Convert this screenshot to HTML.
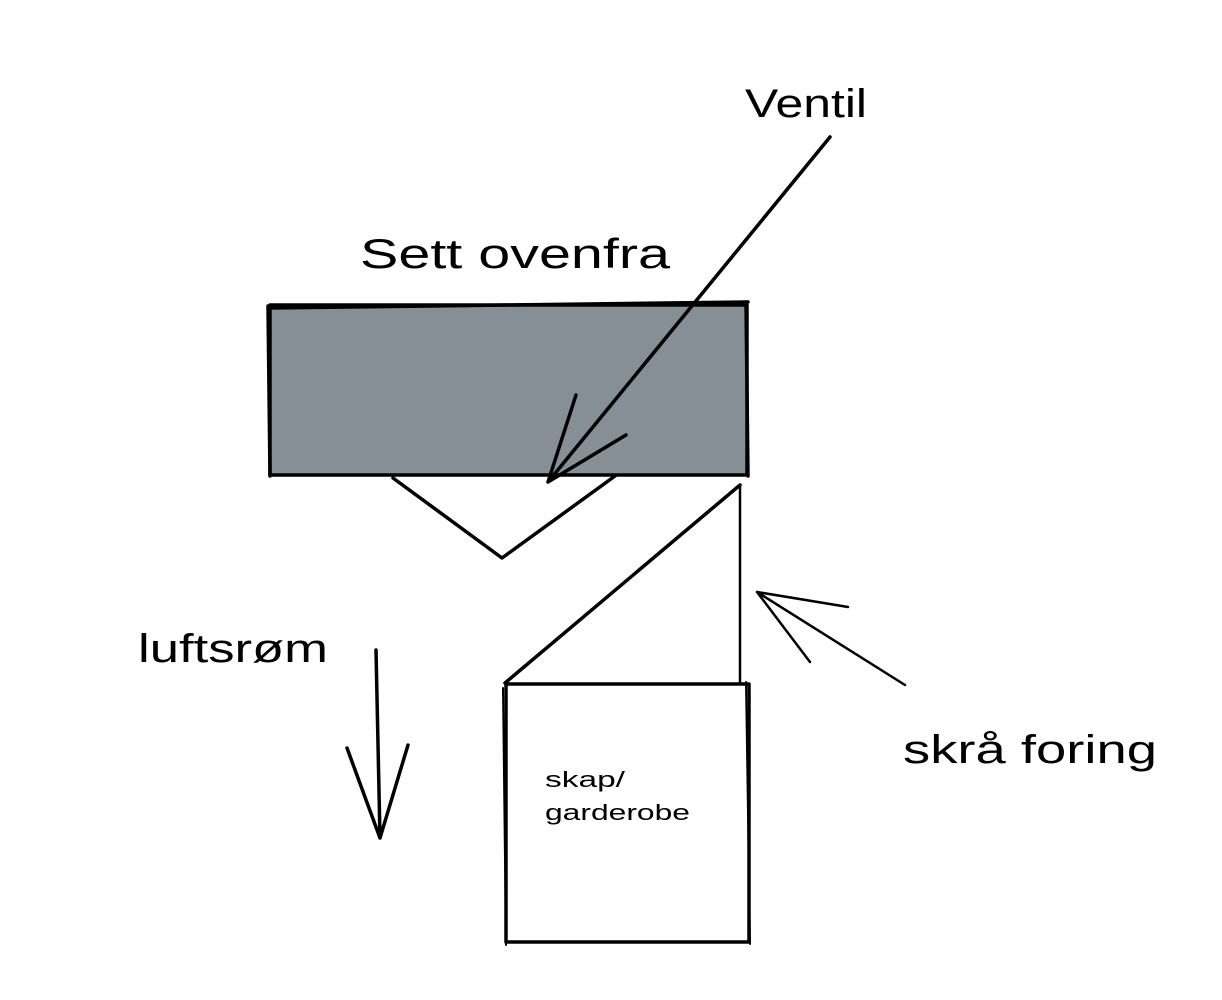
<!DOCTYPE html>
<html><head><meta charset="utf-8"><style>
html,body{margin:0;padding:0;background:#fff;}
svg{display:block}
text{font-family:"Liberation Sans",sans-serif;fill:#000}
</style></head><body>
<svg width="1222" height="1000" viewBox="0 0 1222 1000" xmlns="http://www.w3.org/2000/svg">
<rect width="1222" height="1000" fill="#fff"/>
<g stroke="#000" stroke-width="3.5" fill="none" stroke-linecap="round" stroke-linejoin="round">
<rect x="270" y="305" width="477" height="170" fill="#868e96"/>
<path d="M268 308 L748 302 M268 306 L270 476 M746 302 L748 476"/>
<path d="M393 478 L502 558 L615 476"/>
<path d="M740 485 L505 683"/>
<path d="M740 485 L740 683" stroke-width="2.5"/>
<rect x="506" y="684" width="243" height="258"/>
<path d="M503 688 L506 945 M746 682 L750 944" stroke-width="2"/>
<path d="M830 137 L548 482 M548 482 L576 395 M548 482 L626 435"/>
<path d="M905 685 L757 592 M757 592 L848 607 M757 592 L810 662" stroke-width="2.5"/>
<path d="M376 650 L380 838 M380 838 L347 748 M380 838 L408 745"/>
</g>
<text x="745" y="117" font-size="40" textLength="122" lengthAdjust="spacingAndGlyphs">Ventil</text>
<text x="360" y="268" font-size="42" textLength="310" lengthAdjust="spacingAndGlyphs">Sett ovenfra</text>
<text x="138" y="662" font-size="40" textLength="190" lengthAdjust="spacingAndGlyphs">luftsrøm</text>
<text x="903" y="763" font-size="40" textLength="254" lengthAdjust="spacingAndGlyphs">skrå foring</text>
<text x="545" y="787" font-size="22" textLength="80" lengthAdjust="spacingAndGlyphs">skap/</text>
<text x="545" y="820" font-size="22" textLength="145" lengthAdjust="spacingAndGlyphs">garderobe</text>
</svg>
</body></html>
